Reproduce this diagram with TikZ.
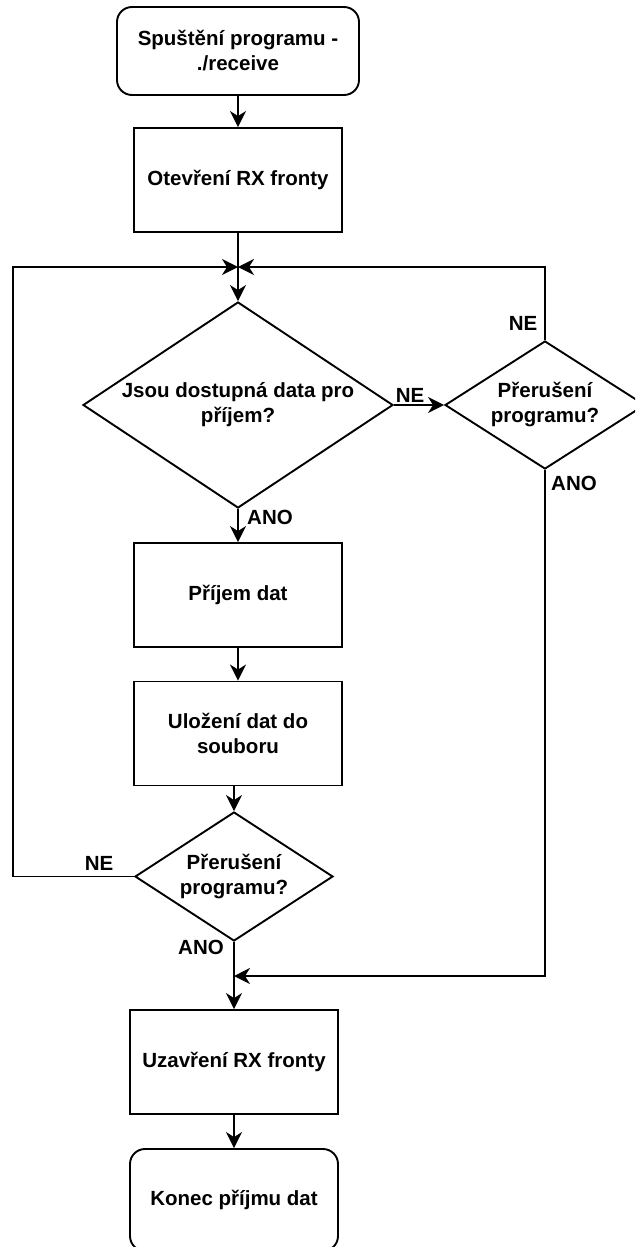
\documentclass[tikz,border=0pt]{standalone}
\usepackage{fontspec}
\setmainfont{Liberation Sans}
\usetikzlibrary{shapes.geometric,arrows.meta}
\begin{document}
\begin{tikzpicture}[x=1pt,y=-1pt,
  every node/.style={font=\fontsize{20.5}{25}\selectfont\bfseries},
  line/.style={line width=1.9pt, black},
  arr/.style={line, -{Stealth[length=16pt,width=16pt,inset=5pt]}},
  proc/.style={draw, line width=1.9pt, rectangle, inner sep=0pt, align=center,
    minimum width=208pt, minimum height=104pt},
  term/.style={proc, rounded corners=15pt},
  dec/.style={draw, line width=1.9pt, diamond, inner sep=0pt, align=center},
  lbl/.style={inner sep=0pt}]
\useasboundingbox (0,0) rectangle (635,1247);
\clip (0,0) rectangle (635,1247);

% process steps
\node[term, minimum width=242pt, minimum height=88pt] (start) at (238,51)
  {Spuštění programu -\\./receive};
\node[proc] (open) at (238,180) {Otevření RX fronty};
\coordinate (j1) at (238,267);
\node[dec, minimum width=310pt, minimum height=206pt,
  label={[align=center]center:Jsou dostupná data pro\\příjem?}] (d1) at (238,405) {};
\node[dec, minimum width=200pt, minimum height=128pt,
  label={[align=center]center:Přerušení\\programu?}] (d2) at (545,405) {};
\node[proc] (recv) at (238,595) {Příjem dat};
\node[proc] (save) at (238,733.5) {Uložení dat do\\souboru};
\node[dec, minimum width=198pt, minimum height=129pt,
  label={[align=center]center:Přerušení\\programu?}] (d3) at (234,876.5) {};
\coordinate (j2) at (234,976);
\coordinate (lft) at (13,876.5);
\node[proc] (close) at (234,1062) {Uzavření RX fronty};
\node[term, minimum height=102pt] (end) at (234,1200) {Konec příjmu dat};

% connectors
\draw[arr] (start) -- (open);
\draw[line] (open.south) -- (j1);
\draw[arr] (j1) -- (d1.north);
\draw[arr] (d1.east) -- (d2.west);
\draw[arr] (d2.north) |- (j1);
\draw[arr] (d1.south) -- (recv.north);
\draw[arr] (recv) -- (save);
\draw[arr] (save.south -| d3.north) -- (d3.north);
\draw[arr] (d3.west) -- (lft) |- (j1);
\draw[line] (d3.south) -- (j2);
\draw[arr] (d2.south) |- (j2);
\draw[arr] (j2) -- (close.north);
\draw[arr] (close) -- (end);

% branch labels
\node[lbl] (ne1) at (410,395) {NE};
\node[lbl] (ne2) at (523,323) {NE};
\node[lbl] (ano1) at (574,483) {ANO};
\node[lbl] (ano2) at (270,517) {ANO};
\node[lbl] (ne3) at (99,863) {NE};
\node[lbl] (ano3) at (201,947) {ANO};
\end{tikzpicture}
\end{document}
